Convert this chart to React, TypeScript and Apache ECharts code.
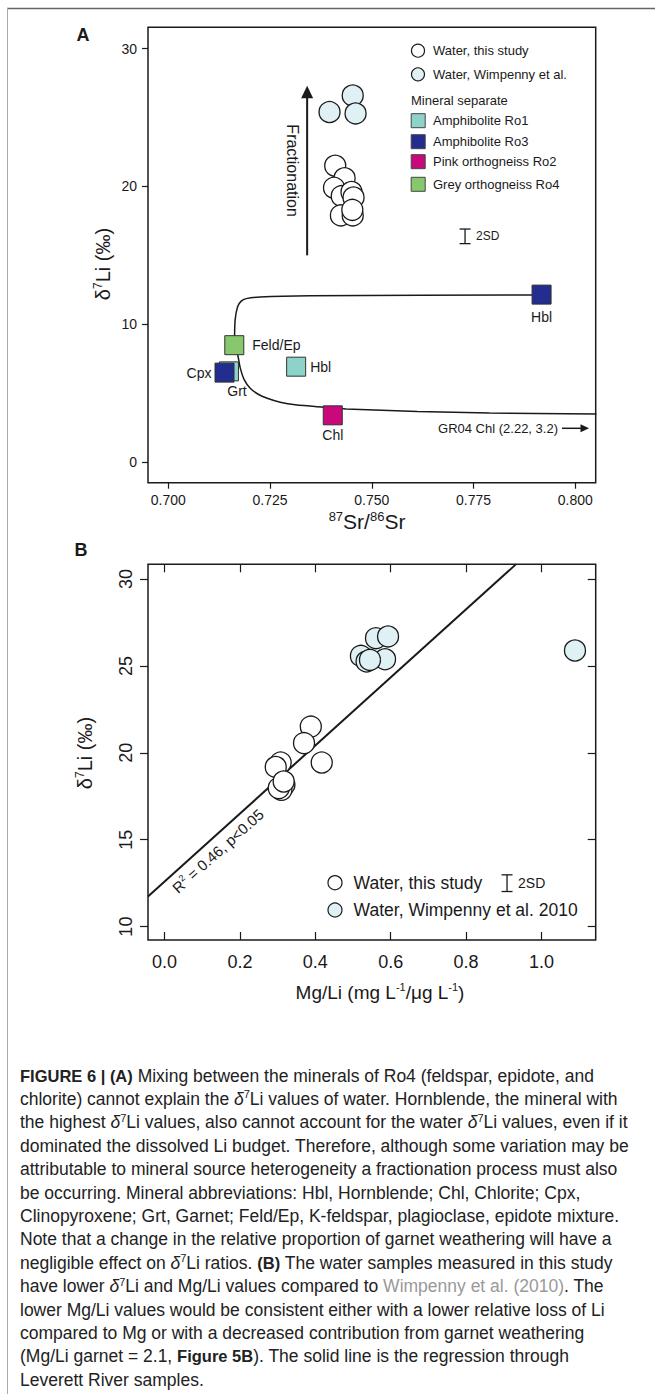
import React, { useEffect, useRef } from "react";
import * as echarts from "echarts";

const FONT = "'Liberation Sans', Arial, Helvetica, sans-serif";

// ---------- Panel A data (87Sr/86Sr vs d7Li) ----------
const waterThisStudyA: number[][] = [
  [0.741, 21.5], [0.7433, 20.6], [0.7407, 19.9], [0.7426, 19.3], [0.745, 19.6],
  [0.7455, 19.2], [0.7424, 17.9], [0.7453, 17.9], [0.7452, 18.3],
];
const waterWimpennyA: number[][] = [[0.7396, 25.4], [0.7453, 26.6], [0.746, 25.3]];
const ro1Points: number[][] = [[0.7149, 6.58], [0.7314, 6.92]];
const ro1Labels = ["Grt", "Hbl"];
const ro3Points: number[][] = [[0.7138, 6.49], [0.7917, 12.15]];
const ro3Labels = ["Cpx", "Hbl"];
const ro2Points: number[][] = [[0.7404, 3.39]];
const ro2Labels = ["Chl"];
const ro4Points: number[][] = [[0.7162, 8.48]];
const ro4Labels = ["Feld/Ep"];
const mixUpper: number[][] = [
  [0.7162, 8.5], [0.71625, 8.88], [0.71642, 10.33], [0.71703, 11.28], [0.7179, 11.68],
  [0.71913, 11.86], [0.72257, 11.98], [0.73486, 12.06], [0.78918, 12.13], [0.7917, 12.15],
];
const mixLower: number[][] = [
  [0.7163, 8.3], [0.71703, 7.79], [0.71765, 6.85], [0.71863, 5.98], [0.72011, 5.36],
  [0.72208, 4.92], [0.72429, 4.63], [0.72749, 4.34], [0.73118, 4.15], [0.7383, 3.97],
  [0.74371, 3.85], [0.76116, 3.67], [0.77886, 3.56], [0.80516, 3.49],
];
const xTicksA = [0.7, 0.725, 0.75, 0.775, 0.8];
const yTicksA = [0, 10, 20, 30];
const fractionationArrowA = { x: 0.7341, from: 15.0, to: 27.3 };
const twoSdA = { x: 0.7729, y: 16.38, half: 0.53 };

// ---------- Panel B data (Mg/Li vs d7Li) ----------
const waterThisStudyB: number[][] = [
  [0.388, 21.51], [0.37, 20.56], [0.417, 19.44], [0.308, 19.44], [0.295, 19.19],
  [0.318, 18.16], [0.31, 17.87], [0.303, 17.97], [0.316, 18.35],
];
const waterWimpennyB: number[][] = [
  [0.521, 25.58], [0.536, 25.26], [0.561, 26.6], [0.593, 26.7], [0.585, 25.39],
  [0.545, 25.35], [1.089, 25.89],
];
const regressionB: number[][] = [[-0.044, 11.73], [0.933, 30.86]];
const xTicksB = [0, 0.2, 0.4, 0.6, 0.8, 1.0];
const yTicksB = [10, 15, 20, 25, 30];
const twoSdB = { x: 0.9087, y: 12.5, half: 0.48 };

const captionLines = [
  "{b|FIGURE 6 | (A)} Mixing between the minerals of Ro4 (feldspar, epidote, and",
  "chlorite) cannot explain the {i|δ}{s|7}Li values of water. Hornblende, the mineral with",
  "the highest {i|δ}{s|7}Li values, also cannot account for the water {i|δ}{s|7}Li values, even if it",
  "dominated the dissolved Li budget. Therefore, although some variation may be",
  "attributable to mineral source heterogeneity a fractionation process must also",
  "be occurring. Mineral abbreviations: Hbl, Hornblende; Chl, Chlorite; Cpx,",
  "Clinopyroxene; Grt, Garnet; Feld/Ep, K-feldspar, plagioclase, epidote mixture.",
  "Note that a change in the relative proportion of garnet weathering will have a",
  "negligible effect on {i|δ}{s|7}Li ratios. {b|(B)} The water samples measured in this study",
  "have lower {i|δ}{s|7}Li and Mg/Li values compared to {g|Wimpenny et al. (2010)}. The",
  "lower Mg/Li values would be consistent either with a lower relative loss of Li",
  "compared to Mg or with a decreased contribution from garnet weathering",
  "(Mg/Li garnet = 2.1, {b|Figure 5B}). The solid line is the regression through",
  "Leverett River samples.",
];

const TEAL = "#8ed3ca";
const NAVY = "#232c8f";
const PINK = "#c9087b";
const GREEN = "#86c86b";
const LIGHT = "#dff1f4";
const INK = "#1a1a1a";

function rectSeries(points: number[][], labels: string[], color: string, place: any[]) {
  return {
    type: "scatter", xAxisIndex: 0, yAxisIndex: 0, symbol: "rect", symbolSize: 19,
    silent: true, z: 4,
    itemStyle: { color, borderColor: "#333", borderWidth: 1, opacity: 1 },
    data: points.map((p, i) => ({
      value: p,
      label: {
        show: true, formatter: labels[i], fontSize: 14, color: INK, fontFamily: FONT,
        ...place[i],
      },
    })),
  };
}

function circleSeries(points: number[][], fill: string, xi: number, yi: number, size: number) {
  return {
    type: "scatter", xAxisIndex: xi, yAxisIndex: yi, symbol: "circle", symbolSize: size,
    silent: true, z: 3,
    itemStyle: { color: fill, borderColor: INK, borderWidth: 1.3, opacity: 1 },
    data: points,
  };
}

function tickAxis(base: any) {
  return {
    type: "value",
    splitLine: { show: false },
    axisLine: { show: false, onZero: false },
    ...base,
  };
}

export default function App() {
  const ref = useRef<HTMLDivElement>(null);
  useEffect(() => {
    const chart = echarts.init(ref.current!, null, { renderer: "svg" });
    const gridBase = {
      show: true, borderColor: INK, borderWidth: 1.5, backgroundColor: "transparent",
      containLabel: false, outerBoundsMode: "none",
    };
    const option: any = {
      animation: false,
      backgroundColor: "#ffffff",
      grid: [
        { ...gridBase, left: 148, top: 27.3, width: 447.7, height: 455.4 },
        { ...gridBase, left: 148, top: 564.3, width: 447.7, height: 375.7 },
      ],
      xAxis: [
        tickAxis({
          gridIndex: 0, min: 0.695, max: 0.805,
          axisTick: { show: true, inside: false, length: 6, customValues: xTicksA, lineStyle: { color: INK, width: 1.2 } },
          axisLabel: { customValues: xTicksA, formatter: (v: number) => v.toFixed(3), fontSize: 14, margin: 10, color: INK, fontFamily: FONT },
        }),
        tickAxis({
          gridIndex: 1, min: -0.044, max: 1.144,
          axisTick: { show: true, inside: true, length: 8, customValues: xTicksB, lineStyle: { color: INK, width: 1.2 } },
          axisLabel: { customValues: xTicksB, formatter: (v: number) => v.toFixed(1), fontSize: 18, margin: 13, color: INK, fontFamily: FONT },
        }),
        tickAxis({
          gridIndex: 1, position: "top", min: -0.044, max: 1.144,
          axisTick: { show: true, inside: true, length: 8, customValues: xTicksB, lineStyle: { color: INK, width: 1.2 } },
          axisLabel: { show: false },
        }),
      ],
      yAxis: [
        tickAxis({
          gridIndex: 0, min: -1.5, max: 31.55,
          axisTick: { show: true, inside: false, length: 6, customValues: yTicksA, lineStyle: { color: INK, width: 1.2 } },
          axisLabel: { customValues: yTicksA, fontSize: 14, margin: 11, color: INK, fontFamily: FONT },
        }),
        tickAxis({
          gridIndex: 1, min: 9.23, max: 30.85,
          axisTick: { show: true, inside: false, length: 8, customValues: yTicksB, lineStyle: { color: INK, width: 1.2 } },
          axisLabel: { customValues: yTicksB, rotate: 90, fontSize: 18, margin: 13, color: INK, fontFamily: FONT },
        }),
        tickAxis({
          gridIndex: 1, position: "right", min: 9.23, max: 30.85,
          axisTick: { show: true, inside: true, length: 8, customValues: yTicksB, lineStyle: { color: INK, width: 1.2 } },
          axisLabel: { show: false },
        }),
      ],
      series: [
        {
          type: "line", xAxisIndex: 0, yAxisIndex: 0, data: mixUpper, symbol: "none", silent: true,
          smooth: 0.3, lineStyle: { color: INK, width: 1.5 }, z: 2,
        },
        {
          type: "line", xAxisIndex: 0, yAxisIndex: 0, data: mixLower, symbol: "none", silent: true,
          smooth: 0.3, lineStyle: { color: INK, width: 1.5 }, z: 2,
        },
        circleSeries(waterThisStudyA, "#ffffff", 0, 0, 21),
        circleSeries(waterWimpennyA, LIGHT, 0, 0, 21),
        rectSeries(ro1Points, ro1Labels, TEAL, [
          { position: "bottom", distance: 3, offset: [8, 0] },
          { position: "right", distance: 4 },
        ]),
        rectSeries(ro3Points, ro3Labels, NAVY, [
          { position: "left", distance: 3 },
          { position: "bottom", distance: 5 },
        ]),
        rectSeries(ro2Points, ro2Labels, PINK, [{ position: "bottom", distance: 3 }]),
        rectSeries(ro4Points, ro4Labels, GREEN, [{ position: "right", distance: 8 }]),
        {
          type: "line", xAxisIndex: 1, yAxisIndex: 1, data: regressionB, symbol: "none", silent: true,
          lineStyle: { color: INK, width: 2 }, z: 2,
        },
        circleSeries(waterThisStudyB, "#ffffff", 1, 1, 21),
        circleSeries(waterWimpennyB, LIGHT, 1, 1, 21),
      ],
    };
    chart.setOption(option);

    const pA = (v: number[]) => chart.convertToPixel({ seriesIndex: 0 }, v) as number[];
    const pB = (v: number[]) => chart.convertToPixel({ seriesIndex: 8 }, v) as number[];

    const txt = (x: number, y: number, text: string, size: number, extra: any = {}, rich?: any, rotation = 0) => ({
      type: "text", x, y, rotation, silent: true,
      style: {
        text, fontSize: size, fontFamily: FONT, fill: INK, align: "left", verticalAlign: "middle",
        rich, ...extra,
      },
    });
    const supRich = (base: number, sup: number) => ({
      n: { fontSize: base, fontFamily: FONT, fill: INK, lineHeight: base + 2 },
      s: { fontSize: sup, fontFamily: FONT, fill: INK, lineHeight: sup, verticalAlign: "top" },
    });

    const g: any[] = [];
    // figure frame
    g.push({ type: "line", silent: true, shape: { x1: 7, y1: 8.5, x2: 655, y2: 8.5 }, style: { stroke: "#666", lineWidth: 1.5 } });
    g.push({ type: "line", silent: true, shape: { x1: 7.5, y1: 8, x2: 7.5, y2: 1394 }, style: { stroke: "#aaa", lineWidth: 1 } });

    // panel letters
    g.push(txt(83, 35, "A", 18, { align: "center", fontWeight: "bold" }));
    g.push(txt(81, 550, "B", 18, { align: "center", fontWeight: "bold" }));

    // axis titles
    g.push(txt(103, 264, "{n|δ}{s|7}{n|Li (‰)}", 20, { align: "center" }, supRich(20, 12), Math.PI / 2));
    g.push(txt(367, 521, "{s|87}{n|Sr/}{s|86}{n|Sr}", 21, { align: "center" }, supRich(21, 13)));
    g.push(txt(85, 753, "{n|δ}{s|7}{n|Li (‰)}", 20, { align: "center" }, supRich(20, 12), Math.PI / 2));
    g.push(txt(380, 992, "{n|Mg/Li (mg L}{s|-1}{n|/μg L}{s|-1}{n|)}", 19, { align: "center" }, supRich(19, 11)));

    // legend A
    g.push({ type: "circle", silent: true, shape: { cx: 418, cy: 50.7, r: 6.5 }, style: { fill: "#fff", stroke: INK, lineWidth: 1.2 } });
    g.push(txt(433, 50.7, "Water, this study", 13));
    g.push({ type: "circle", silent: true, shape: { cx: 418, cy: 74.3, r: 6.5 }, style: { fill: LIGHT, stroke: INK, lineWidth: 1.2 } });
    g.push(txt(433, 74.3, "Water, Wimpenny et al.", 13));
    g.push(txt(411, 100.7, "Mineral separate", 13));
    const legendSq: [string, string, number][] = [
      [TEAL, "Amphibolite Ro1", 120.7],
      [NAVY, "Amphibolite Ro3", 141.7],
      [PINK, "Pink orthogneiss Ro2", 161.7],
      [GREEN, "Grey orthogneiss Ro4", 184.3],
    ];
    legendSq.forEach(([c, t, y]) => {
      g.push({ type: "rect", silent: true, shape: { x: 411.2, y: y - 7, width: 14, height: 14 }, style: { fill: c, stroke: "#444", lineWidth: 1 } });
      g.push(txt(433, y, t, 13));
    });

    // fractionation arrow
    const fa0 = pA([fractionationArrowA.x, fractionationArrowA.from]);
    const fa1 = pA([fractionationArrowA.x, fractionationArrowA.to]);
    g.push({ type: "line", silent: true, shape: { x1: fa0[0], y1: fa0[1], x2: fa1[0], y2: fa1[1] + 10 }, style: { stroke: INK, lineWidth: 2 } });
    g.push({ type: "polygon", silent: true, shape: { points: [[fa1[0], fa1[1]], [fa1[0] - 6, fa1[1] + 12.5], [fa1[0] + 6, fa1[1] + 12.5]] }, style: { fill: INK } });
    g.push(txt(fa1[0] - 15, (fa0[1] + fa1[1]) / 2, "Fractionation", 16, { align: "center" }, undefined, -Math.PI / 2));

    // 2SD bars
    const sdBar = (p: (v: number[]) => number[], sd: any, label: string, fs: number) => {
      const t = p([sd.x, sd.y + sd.half]);
      const b = p([sd.x, sd.y - sd.half]);
      g.push({ type: "line", silent: true, shape: { x1: t[0], y1: t[1], x2: b[0], y2: b[1] }, style: { stroke: INK, lineWidth: 1.3 } });
      g.push({ type: "line", silent: true, shape: { x1: t[0] - 5.5, y1: t[1], x2: t[0] + 5.5, y2: t[1] }, style: { stroke: INK, lineWidth: 1.3 } });
      g.push({ type: "line", silent: true, shape: { x1: b[0] - 5.5, y1: b[1], x2: b[0] + 5.5, y2: b[1] }, style: { stroke: INK, lineWidth: 1.3 } });
      g.push(txt(t[0] + 11, (t[1] + b[1]) / 2, label, fs));
    };
    sdBar(pA, twoSdA, "2SD", 12);
    sdBar(pB, twoSdB, "2SD", 14);

    // GR04 annotation
    g.push(txt(558, 428.3, "GR04 Chl (2.22, 3.2)", 13, { align: "right" }));
    g.push({ type: "line", silent: true, shape: { x1: 562, y1: 428.3, x2: 582, y2: 428.3 }, style: { stroke: INK, lineWidth: 1.5 } });
    g.push({ type: "polygon", silent: true, shape: { points: [[589, 428.3], [580.5, 424.3], [580.5, 432.3]] }, style: { fill: INK } });

    // regression label
    const r0 = pB(regressionB[0]);
    const r1 = pB(regressionB[1]);
    const ang = Math.atan2(r0[1] - r1[1], r1[0] - r0[0]);
    g.push(txt(218, 851, "{n|R}{s|2}{n| = 0.46, p<0.05}", 15, { align: "center" }, supRich(15, 9), ang));

    // legend B
    g.push({ type: "circle", silent: true, shape: { cx: 335, cy: 882.7, r: 7 }, style: { fill: "#fff", stroke: INK, lineWidth: 1.2 } });
    g.push(txt(353.6, 882.7, "Water, this study", 17.5));
    g.push({ type: "circle", silent: true, shape: { cx: 335, cy: 910, r: 7 }, style: { fill: LIGHT, stroke: INK, lineWidth: 1.2 } });
    g.push(txt(353.6, 910, "Water, Wimpenny et al. 2010", 17.5));

    // caption
    const CF = 17.5;
    const capRich = {
      b: { fontSize: 16.5, fontFamily: FONT, fontWeight: "bold", fill: "#222", lineHeight: 20 },
      i: { fontSize: CF, fontFamily: FONT, fontStyle: "italic", fill: "#222", lineHeight: 20 },
      s: { fontSize: 11, fontFamily: FONT, fill: "#222", lineHeight: 10, verticalAlign: "top" },
      g: { fontSize: CF, fontFamily: FONT, fill: "#999", lineHeight: 20 },
    };
    captionLines.forEach((line, i) => {
      g.push(txt(20, 1075.5 + 23.4 * i, line, CF, { fill: "#222", lineHeight: 20 }, capRich));
    });

    chart.setOption({ graphic: g });
    return () => chart.dispose();
  }, []);
  return <div ref={ref} style={{ position: "absolute", left: 0, top: 0, width: 655, height: 1394 }} />;
}
